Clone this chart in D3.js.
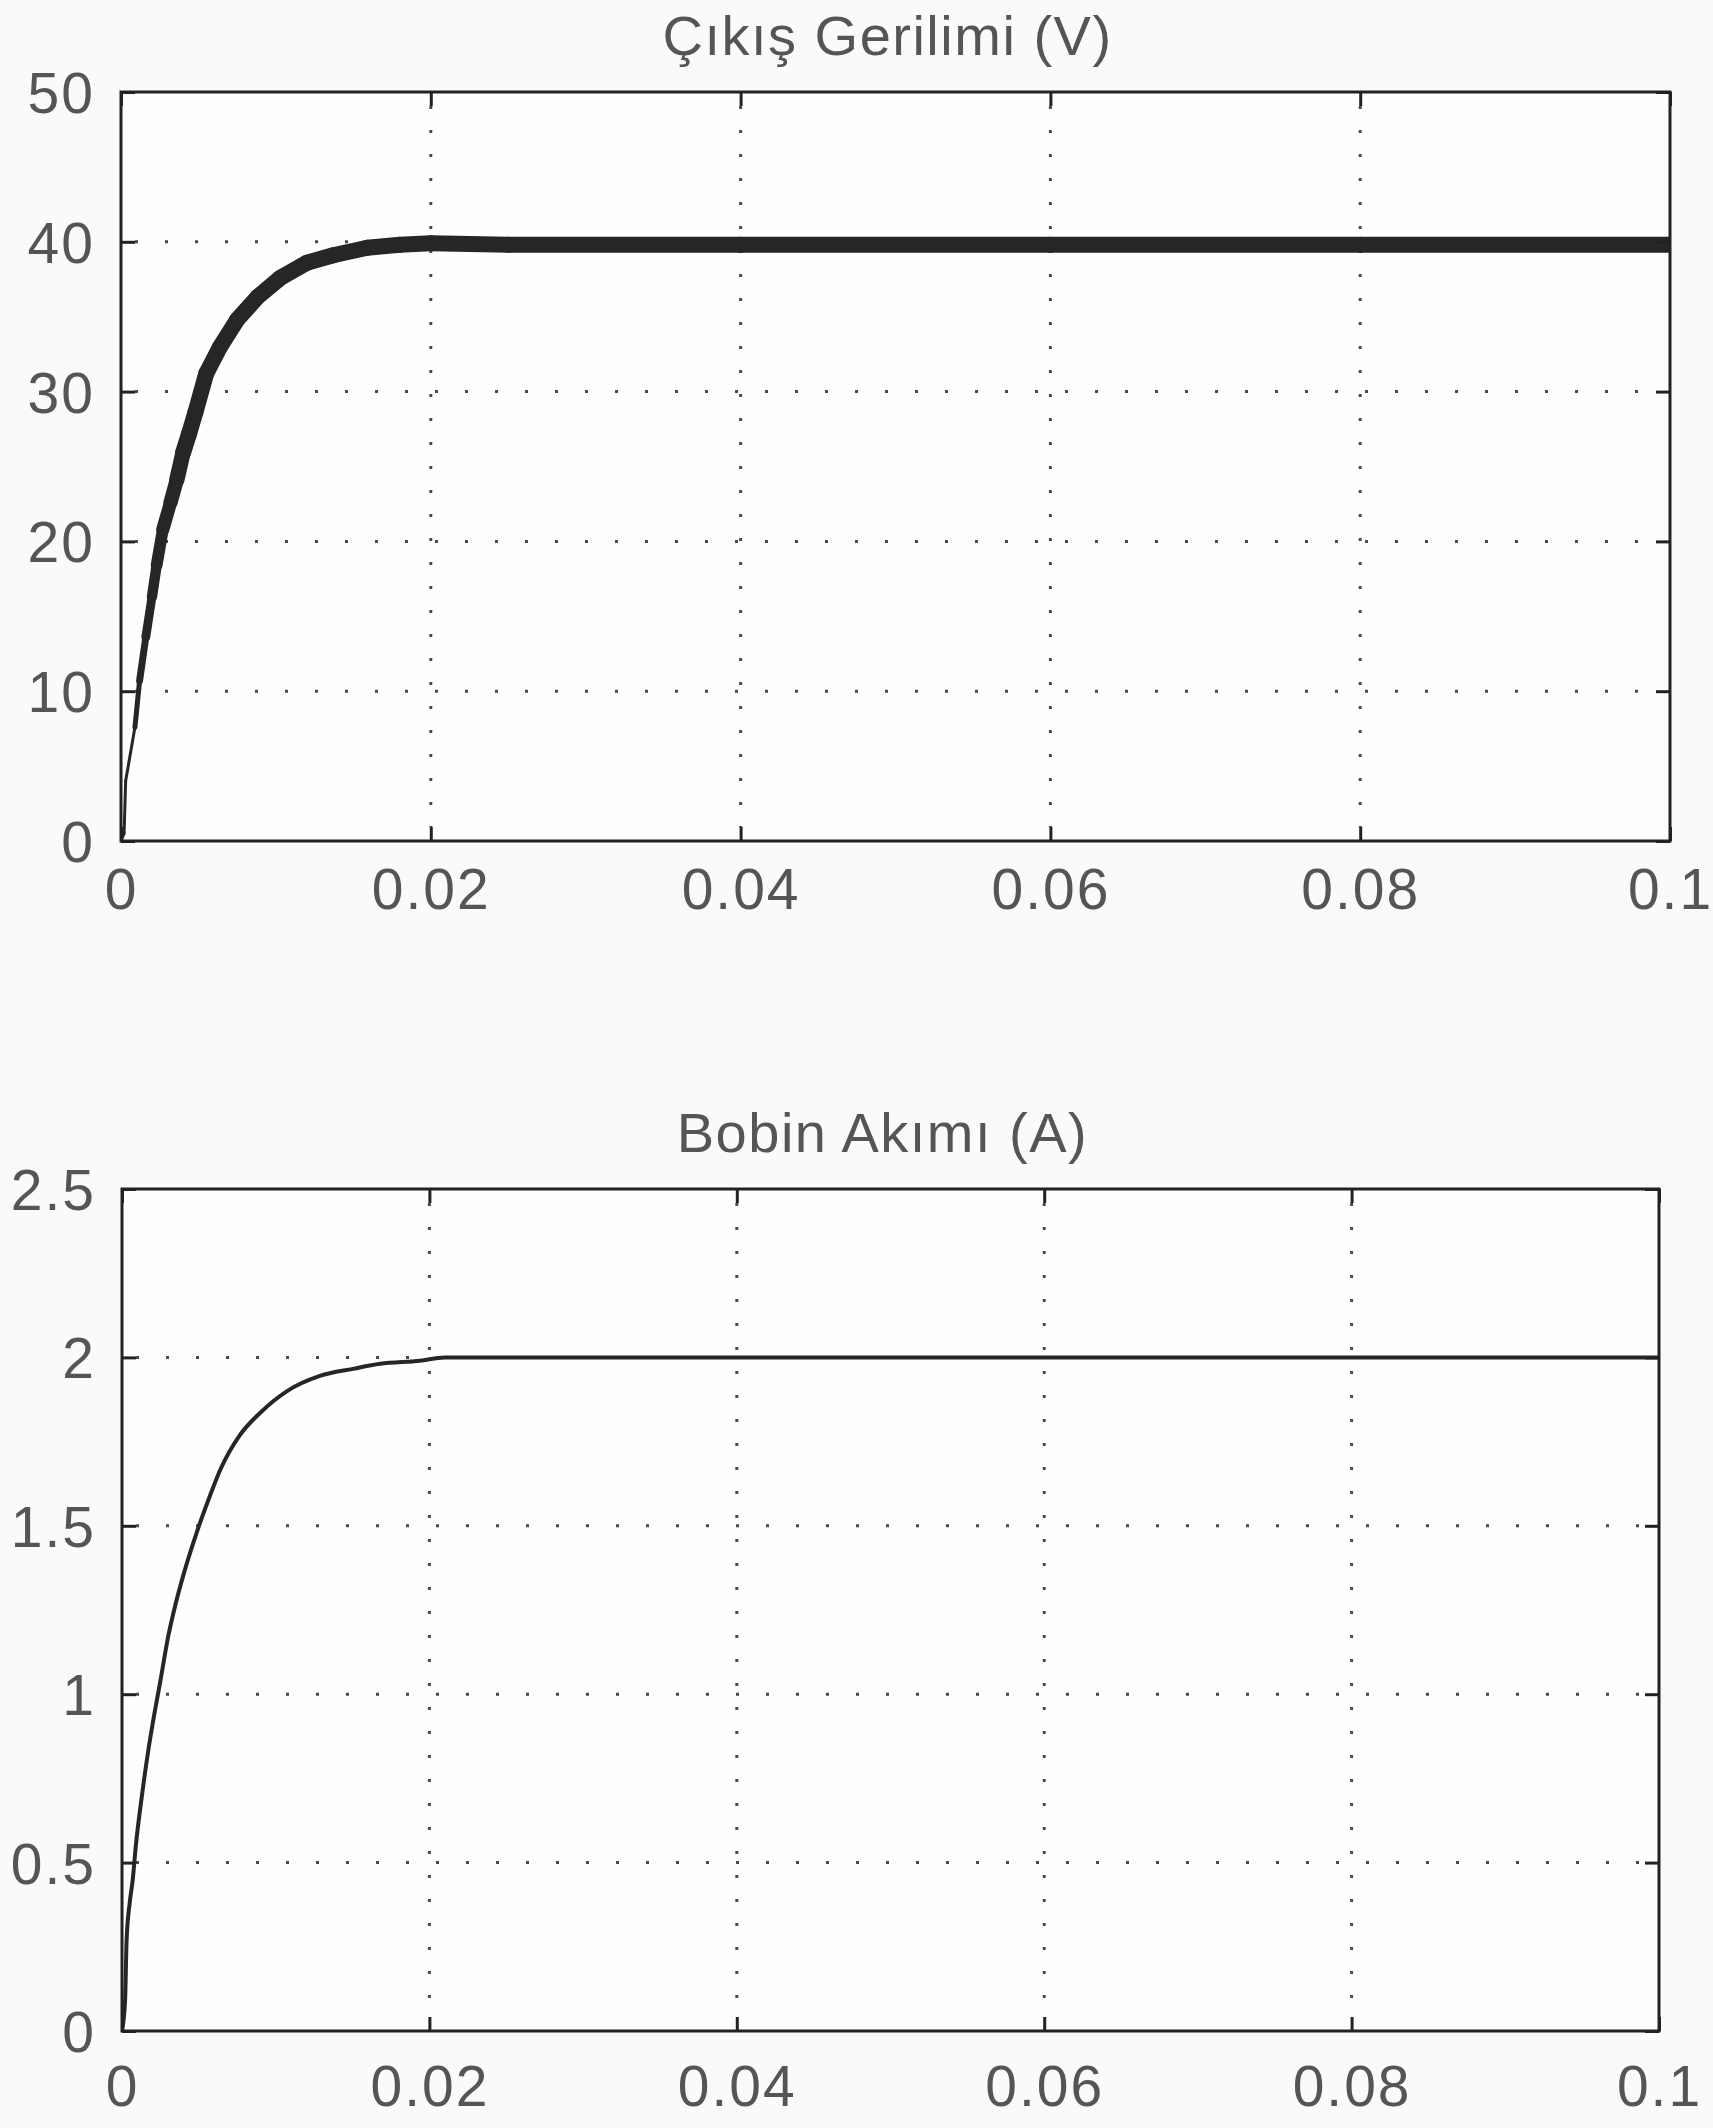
<!DOCTYPE html>
<html>
<head>
<meta charset="utf-8">
<script src="https://cdn.jsdelivr.net/npm/d3@7"></script>
<style>
  body { margin: 0; background: #fafaf9; }
  text { font-family: "Liberation Sans", Arial, sans-serif; fill: #555; }
</style>
</head>
<body>
<div id="target"></div>
<script>
// time axis shared by both plots (s)
var timeTicks = [0, 0.02, 0.04, 0.06, 0.08, 0.1];
var timeTickLabels = ["0", "0.02", "0.04", "0.06", "0.08", "0.1"];

// output voltage (V)
var voltTitle = "Çıkış Gerilimi (V)";
var voltTicks = [0, 10, 20, 30, 40, 50];
var voltTickLabels = ["0", "10", "20", "30", "40", "50"];
var voltTime = [0, 0.0002, 0.0003, 0.0009, 0.0012, 0.0016, 0.002, 0.0023, 0.0027, 0.0032, 0.0036, 0.004, 0.0044,
    0.0048, 0.0055, 0.0064, 0.0075, 0.0088, 0.0103, 0.012, 0.0137, 0.0159, 0.018, 0.02, 0.025, 0.04, 0.06, 0.08, 0.1];
var voltValue = [0, 0.5, 4, 7.6, 10.7, 13.6, 16.3, 18.4, 20.8, 22.6, 24.1, 25.9, 27.2,
    28.6, 31.2, 33.0, 34.8, 36.3, 37.6, 38.6, 39.1, 39.6, 39.8, 39.9, 39.8, 39.8, 39.8, 39.8, 39.8];

// inductor current (A)
var currTitle = "Bobin Akımı (A)";
var currTicks = [0, 0.5, 1, 1.5, 2, 2.5];
var currTickLabels = ["0", "0.5", "1", "1.5", "2", "2.5"];
var currTime = [0, 0.0002, 0.0003, 0.0005, 0.0007, 0.0009, 0.0013, 0.0017, 0.0021, 0.0025, 0.003, 0.0035, 0.004,
    0.00486, 0.00573, 0.00638, 0.00768, 0.00898, 0.01074, 0.01288, 0.01503, 0.01679, 0.01939, 0.021, 0.1];
var currValue = [0, 0.09, 0.27, 0.38, 0.45, 0.55, 0.7, 0.83, 0.94, 1.04, 1.17, 1.27, 1.355,
    1.48, 1.59, 1.665, 1.77, 1.835, 1.9, 1.945, 1.966, 1.981, 1.99, 2.0, 2.0];

var W = 1713, H = 2128;
var svg = d3.select("#target").append("svg")
    .attr("width", W)
    .attr("height", H);

function drawPanel(opt) {
    var x = d3.scaleLinear().domain([0, 0.1]).range([opt.left, opt.right]);
    var y = d3.scaleLinear().domain([opt.yTicks[0], opt.yTicks[opt.yTicks.length - 1]]).range([opt.bottom, opt.top]);
    var g = svg.append("g");

    // plot background + clip so the thick trace stays inside the box
    g.append("rect")
        .attr("x", opt.left).attr("y", opt.top)
        .attr("width", opt.right - opt.left).attr("height", opt.bottom - opt.top)
        .attr("fill", "#fefefe");
    g.append("clipPath").attr("id", opt.id)
        .append("rect")
        .attr("x", opt.left).attr("y", opt.top)
        .attr("width", opt.right - opt.left).attr("height", opt.bottom - opt.top);

    // dotted grid
    g.selectAll(".hgrid")
        .data(opt.yTicks.slice(1, -1))
        .enter().append("line")
        .attr("x1", opt.left + 14).attr("x2", opt.right - 14)
        .attr("y1", function(d) { return y(d); })
        .attr("y2", function(d) { return y(d); })
        .attr("stroke", "#4a4a4a").attr("stroke-width", 3)
        .attr("stroke-dasharray", "3 27");
    g.selectAll(".vgrid")
        .data(timeTicks.slice(1, -1))
        .enter().append("line")
        .attr("y1", opt.top + 14).attr("y2", opt.bottom - 14)
        .attr("x1", function(d) { return x(d); })
        .attr("x2", function(d) { return x(d); })
        .attr("stroke", "#4a4a4a").attr("stroke-width", 3)
        .attr("stroke-dasharray", "3 21");

    // the curve
    var pts = opt.time.map(function(t, i) { return {x: t, y: opt.value[i]}; });
    var trace = g.append("g").attr("clip-path", "url(#" + opt.id + ")");
    if (opt.widthScale) {
        // voltage ripple band gets thicker as the output rises
        for (var i = 0; i < pts.length - 1; i++) {
            trace.append("line")
                .attr("x1", x(pts[i].x)).attr("y1", y(pts[i].y))
                .attr("x2", x(pts[i + 1].x)).attr("y2", y(pts[i + 1].y))
                .attr("stroke", "#262626")
                .attr("stroke-linecap", "round")
                .attr("stroke-width", opt.widthScale((pts[i].y + pts[i + 1].y) / 2));
        }
    } else {
        var line = d3.line()
            .x(function(d) { return x(d.x); })
            .y(function(d) { return y(d.y); })
            .curve(d3.curveMonotoneX);
        trace.append("path")
            .datum(pts)
            .attr("fill", "none")
            .attr("stroke", "#262626")
            .attr("stroke-width", 4)
            .attr("stroke-linejoin", "round")
            .attr("d", line);
    }

    // axes, ticks pointing inward like matlab
    var xb = g.append("g")
        .attr("transform", "translate(0," + opt.bottom + ")")
        .call(d3.axisBottom(x).tickValues(timeTicks)
            .tickFormat(function(d, i) { return timeTickLabels[i]; })
            .tickSizeInner(-14).tickSizeOuter(0).tickPadding(opt.xPad));
    var xt = g.append("g")
        .attr("transform", "translate(0," + opt.top + ")")
        .call(d3.axisTop(x).tickValues(timeTicks).tickFormat("")
            .tickSizeInner(-14).tickSizeOuter(0));
    var yl = g.append("g")
        .attr("transform", "translate(" + opt.left + ",0)")
        .call(d3.axisLeft(y).tickValues(opt.yTicks)
            .tickFormat(function(d, i) { return opt.yTickLabels[i]; })
            .tickSizeInner(-14).tickSizeOuter(0).tickPadding(26));
    var yr = g.append("g")
        .attr("transform", "translate(" + opt.right + ",0)")
        .call(d3.axisRight(y).tickValues(opt.yTicks).tickFormat("")
            .tickSizeInner(-14).tickSizeOuter(0));

    [xb, xt, yl, yr].forEach(function(a) {
        a.select(".domain").remove();
        a.selectAll("line").attr("stroke", "#222").attr("stroke-width", 3);
        a.selectAll("text")
            .attr("fill", "#555")
            .style("font-size", "57px")
            .style("letter-spacing", "2px")
            .style("font-family", "'Liberation Sans', Arial, sans-serif");
    });
    yl.selectAll("text").attr("dy", "0.36em");

    // box
    g.append("rect")
        .attr("x", opt.left).attr("y", opt.top)
        .attr("width", opt.right - opt.left).attr("height", opt.bottom - opt.top)
        .attr("fill", "none")
        .attr("stroke", "#222").attr("stroke-width", 3);

    // title
    g.append("text")
        .attr("x", (opt.left + opt.right) / 2 - 8)
        .attr("y", opt.top - 37)
        .attr("text-anchor", "middle")
        .style("font-size", "56px")
        .style("letter-spacing", "1.5px")
        .text(opt.title);
}

drawPanel({
    id: "clipVolt",
    left: 121, right: 1670, top: 92, bottom: 841, xPad: 28,
    yTicks: voltTicks, yTickLabels: voltTickLabels,
    time: voltTime, value: voltValue, title: voltTitle,
    widthScale: d3.scaleLinear().domain([6, 26]).range([3, 16]).clamp(true)
});

drawPanel({
    id: "clipCurr",
    left: 122, right: 1659, top: 1189, bottom: 2031, xPad: 35,
    yTicks: currTicks, yTickLabels: currTickLabels,
    time: currTime, value: currValue, title: currTitle
});
</script>
</body>
</html>
